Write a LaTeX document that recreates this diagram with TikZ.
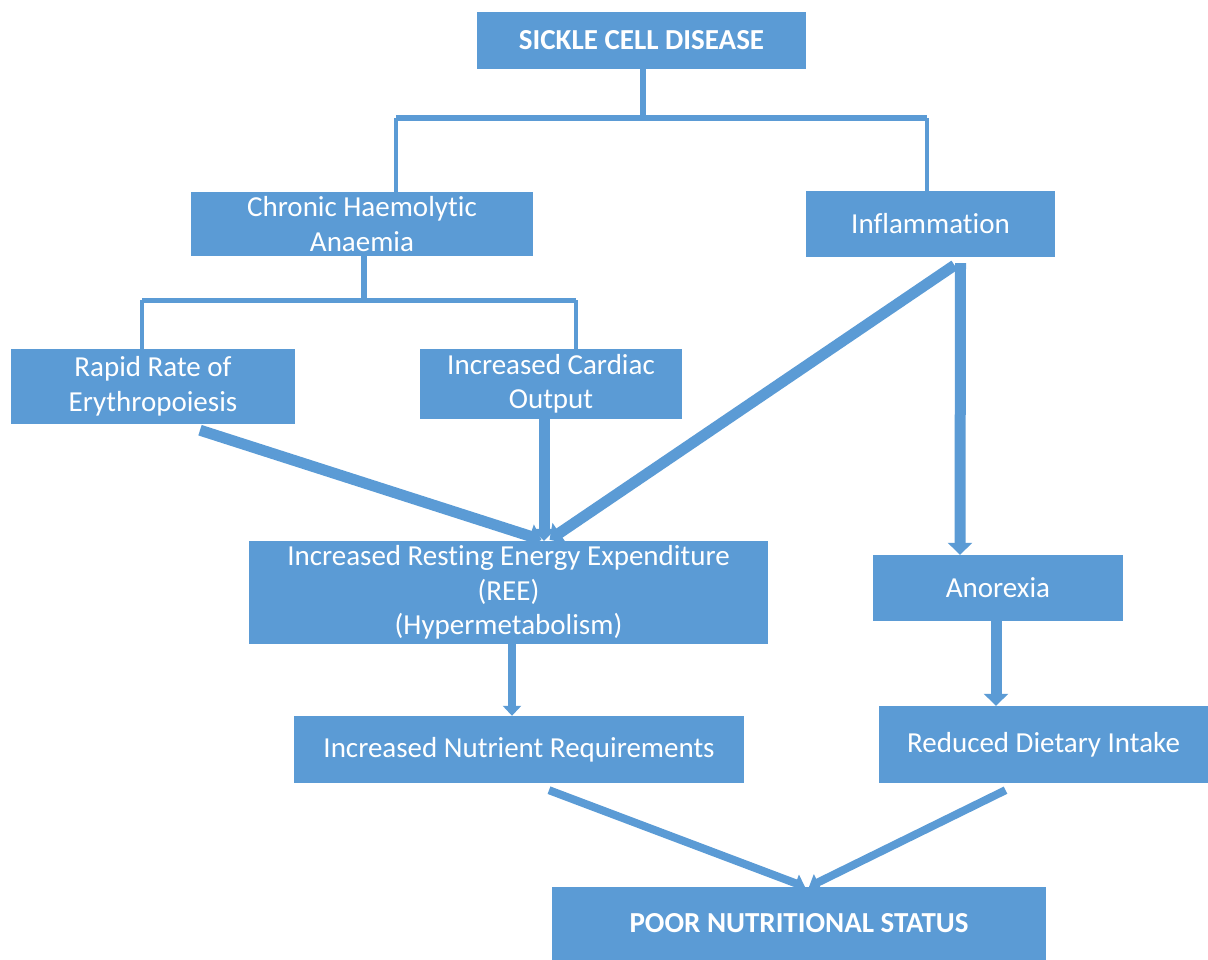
\documentclass[tikz,border=0pt]{standalone}
\usepackage{fontspec}
\setmainfont{Carlito}[Ligatures=NoCommon]
\usetikzlibrary{arrows.meta,calc}
\definecolor{obl}{RGB}{91,155,213}
\begin{document}
\begin{tikzpicture}[x=1pt,y=-1pt,
  box/.style={fill=obl,draw=none,text=white,align=center,inner sep=0pt,
    font=\fontsize{29}{34.5}\selectfont},
  bbox/.style={box,font=\fontsize{29}{34.5}\selectfont\bfseries},
  thin/.style={draw=obl,line width=3.5pt},
  bar/.style={draw=obl,line width=6pt},
  blk/.style={draw=obl,line width=11pt,-{Triangle[width=24pt,length=12pt]}},
  blks/.style={draw=obl,line width=8pt,-{Triangle[width=18pt,length=10pt]}}]
\useasboundingbox (0,0) rectangle (1208,960);
\node[bbox,minimum width=329pt,minimum height=57pt] (scd) at (641.5,40.5) {SICKLE CELL DISEASE};
\node[box,minimum width=342pt,minimum height=64pt] (cha) at (362,224) {Chronic Haemolytic\\Anaemia};
\node[box,minimum width=249pt,minimum height=66pt] (inf) at (930.5,224) {Inflammation};
\node[box,minimum width=284pt,minimum height=75pt] (rre) at (153,386.5) {Rapid Rate of\\Erythropoiesis};
\node[box,minimum width=262pt,minimum height=70pt] (ico) at (551,384) {Increased Cardiac\\Output};
\node[box,minimum width=519pt,minimum height=103pt] (ree) at (508.5,592.5) {Increased Resting Energy Expenditure\\(REE)\\(Hypermetabolism)};
\node[box,minimum width=250pt,minimum height=66pt] (ano) at (998,588) {Anorexia};
\node[box,minimum width=450pt,minimum height=67pt] (inr) at (519,749.5) {Increased Nutrient Requirements};
\node[box,minimum width=329pt,minimum height=77pt] (rdi) at (1043.5,744.5) {Reduced Dietary Intake};
\node[bbox,minimum width=494pt,minimum height=73pt] (pns) at (799,923.5) {POOR NUTRITIONAL STATUS};
% tree from SCD
\coordinate (j1) at ($(scd.south)+(1.5,49)$);
\draw[bar] (scd.south -| j1) -- (j1);
\draw[bar] (j1 -| 396,0) -- (j1 -| 927,0);
\draw[thin] (j1 -| 396,0) -- (cha.north -| 396,0);
\draw[thin] (j1 -| 927,0) -- (inf.north -| 927,0);
% tree from CHA
\coordinate (j2) at ($(cha.south)+(2,44)$);
\draw[bar] (cha.south -| j2) -- (j2);
\draw[thin,line width=5pt] (j2 -| 142,0) -- (j2 -| 576,0);
\draw[thin] (j2 -| 142,0) -- (rre.north -| 142,0);
\draw[thin] (j2 -| 576,0) -- (ico.north -| 576,0);
% arrows into REE
\coordinate (tip) at ($(ree.north)+(35,0)$);
\draw[blk] ($(rre.south)+(47,6)$) -- ($(tip)+(-2,-1)$);
\draw[blk] (ico.south -| 544,0) -- (tip -| 544,0);
\draw[blk] ($(inf.south)+(24,8)$) -- ($(tip)+(6,-1)$);
\draw[blk] ($(inf.south)+(30,6)$) -- (ano.north -| 960,0);
% lower arrows
\draw[blks] (ree.south -| 512,0) -- (inr.north -| 512,0);
\draw[blk] (ano.south -| 996,0) -- (rdi.north -| 996,0);
\draw[blks] ($(inr.south)+(30,7)$) -- ($(pns.north)+(6,0)$);
\draw[blks] ($(rdi.south)+(-38,7)$) -- ($(pns.north)+(10,0)$);
\end{tikzpicture}
\end{document}
